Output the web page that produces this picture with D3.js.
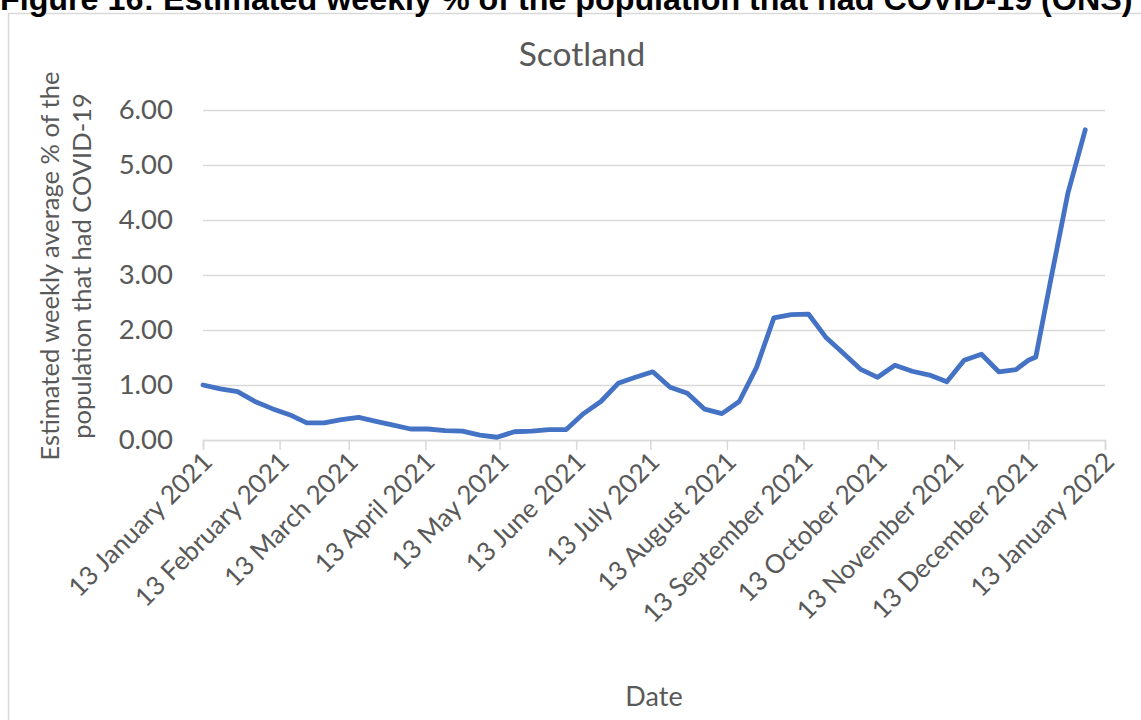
<!DOCTYPE html>
<html>
<head>
<meta charset="utf-8">
<script src="https://cdn.jsdelivr.net/npm/d3@7"></script>
<style>
  html, body { margin: 0; padding: 0; background: #fff; }
  svg { display: block; }
</style>
</head>
<body>
<svg id="chart" width="1141" height="720"></svg>
<script>
// Weekly estimates for Scotland, % of population testing positive
const dates = [
  "2021-01-13","2021-01-20","2021-01-27","2021-02-03","2021-02-10","2021-02-17","2021-02-24",
  "2021-03-03","2021-03-10","2021-03-17","2021-03-24","2021-03-31","2021-04-07","2021-04-14",
  "2021-04-21","2021-04-28","2021-05-05","2021-05-12","2021-05-19","2021-05-26","2021-06-02",
  "2021-06-09","2021-06-16","2021-06-23","2021-06-30","2021-07-07","2021-07-14","2021-07-21",
  "2021-07-28","2021-08-04","2021-08-11","2021-08-18","2021-08-25","2021-09-01","2021-09-08",
  "2021-09-15","2021-09-22","2021-09-29","2021-10-06","2021-10-13","2021-10-20","2021-10-27",
  "2021-11-03","2021-11-10","2021-11-17","2021-11-24","2021-12-01","2021-12-08","2021-12-13",
  "2021-12-16","2021-12-22","2021-12-29","2022-01-05"
];
const percentPositive = [
  1.00, 0.93, 0.88, 0.70, 0.57, 0.46, 0.31,
  0.31, 0.37, 0.41, 0.34, 0.27, 0.20, 0.20,
  0.17, 0.16, 0.09, 0.05, 0.15, 0.16, 0.19,
  0.19, 0.48, 0.70, 1.03, 1.14, 1.24, 0.96,
  0.85, 0.56, 0.48, 0.70, 1.32, 2.22, 2.28,
  2.29, 1.87, 1.58, 1.29, 1.14, 1.36, 1.25,
  1.18, 1.06, 1.45, 1.56, 1.24, 1.28, 1.45,
  1.51, 2.90, 4.49, 5.64
];

// Axis ticks
const xTickDates = [
  "2021-01-13","2021-02-13","2021-03-13","2021-04-13","2021-05-13","2021-06-13","2021-07-13",
  "2021-08-13","2021-09-13","2021-10-13","2021-11-13","2021-12-13","2022-01-13"
];
const xTickLabels = [
  "13 January 2021","13 February 2021","13 March 2021","13 April 2021","13 May 2021",
  "13 June 2021","13 July 2021","13 August 2021","13 September 2021","13 October 2021",
  "13 November 2021","13 December 2021","13 January 2022"
];
const yTicks = [0, 1, 2, 3, 4, 5, 6];

const figureTitle = "Figure 16: Estimated weekly % of the population that had COVID-19 (ONS)";
const chartTitle = "Scotland";
const yTitleLines = ["Estimated weekly average % of the", "population that had COVID-19"];
const xTitle = "Date";

const parse = d3.utcParse("%Y-%m-%d");
const series = dates.map((d, i) => ({ date: parse(d), value: percentPositive[i] }));

const svg = d3.select("#chart");
const W = 1141, H = 720;
const plot = { left: 203, right: 1105, top: 110, bottom: 440 };
const textColor = "#595959";
const gridColor = "#d9d9d9";
const font = "Lato, 'Open Sans', sans-serif";

const x = d3.scaleUtc()
  .domain([parse(xTickDates[0]), parse(xTickDates[xTickDates.length - 1])])
  .range([plot.left, plot.right]);
const y = d3.scaleLinear().domain([0, 6]).range([plot.bottom, plot.top]);

// Chart area frame
svg.append("rect")
  .attr("x", 8.5).attr("y", 13.5)
  .attr("width", W).attr("height", H)
  .attr("fill", "#fff").attr("stroke", gridColor).attr("stroke-width", 1.5);

// Figure heading, in bold sans
const heading = svg.append("text")
  .attr("x", 0).attr("y", 10)
  .attr("font-family", "'Liberation Sans', Arial, sans-serif")
  .attr("font-weight", "bold")
  .attr("font-size", 26)
  .attr("fill", "#000")
  .text(figureTitle);
const hw = heading.node().getComputedTextLength();
heading.attr("font-size", 26 * 1133 / hw);

// Horizontal gridlines and y labels
const yAxis = d3.axisLeft(y).tickValues(yTicks).tickSize(-(plot.right - plot.left))
  .tickFormat(d3.format(".2f")).tickPadding(30);
const gy = svg.append("g").attr("transform", `translate(${plot.left},0)`).call(yAxis);
gy.select(".domain").remove();
gy.selectAll(".tick line").attr("stroke", gridColor).attr("stroke-width", 1.5);
gy.selectAll(".tick text")
  .attr("fill", textColor).attr("font-family", font).attr("font-size", 27.5);

// Date axis with month ticks
const xAxis = d3.axisBottom(x).tickValues(xTickDates.map(parse)).tickSize(10)
  .tickFormat((d, i) => xTickLabels[i]);
const gx = svg.append("g").attr("transform", `translate(0,${plot.bottom})`).call(xAxis);
gx.select(".domain").attr("stroke", gridColor).attr("stroke-width", 1.5);
gx.selectAll(".tick line").attr("stroke", gridColor).attr("stroke-width", 1.5);
gx.selectAll(".tick text")
  .attr("fill", textColor).attr("font-family", font).attr("font-size", 26)
  .attr("text-anchor", "end")
  .attr("dy", "0.35em")
  .attr("transform", "translate(4,17) rotate(-45)")
  .attr("x", 0).attr("y", 0);

// The series line
const line = d3.line().x(d => x(d.date)).y(d => y(d.value));
svg.append("path")
  .datum(series)
  .attr("fill", "none")
  .attr("stroke", "#4472c4")
  .attr("stroke-width", 4.8)
  .attr("stroke-linejoin", "round")
  .attr("stroke-linecap", "round")
  .attr("d", line);

// Titles
svg.append("text")
  .attr("x", 582).attr("y", 66)
  .attr("text-anchor", "middle")
  .attr("fill", textColor).attr("font-family", font).attr("font-size", 33.5)
  .text(chartTitle);

const yt = svg.append("text")
  .attr("transform", "translate(0,266) rotate(-90)")
  .attr("text-anchor", "middle")
  .attr("fill", textColor).attr("font-family", font).attr("font-size", 25.5);
yTitleLines.forEach((t, i) => {
  yt.append("tspan").attr("x", 0).attr("y", 59 + i * 32).text(t);
});

svg.append("text")
  .attr("x", 654).attr("y", 706)
  .attr("text-anchor", "middle")
  .attr("fill", textColor).attr("font-family", font).attr("font-size", 27)
  .text(xTitle);
</script>
</body>
</html>
